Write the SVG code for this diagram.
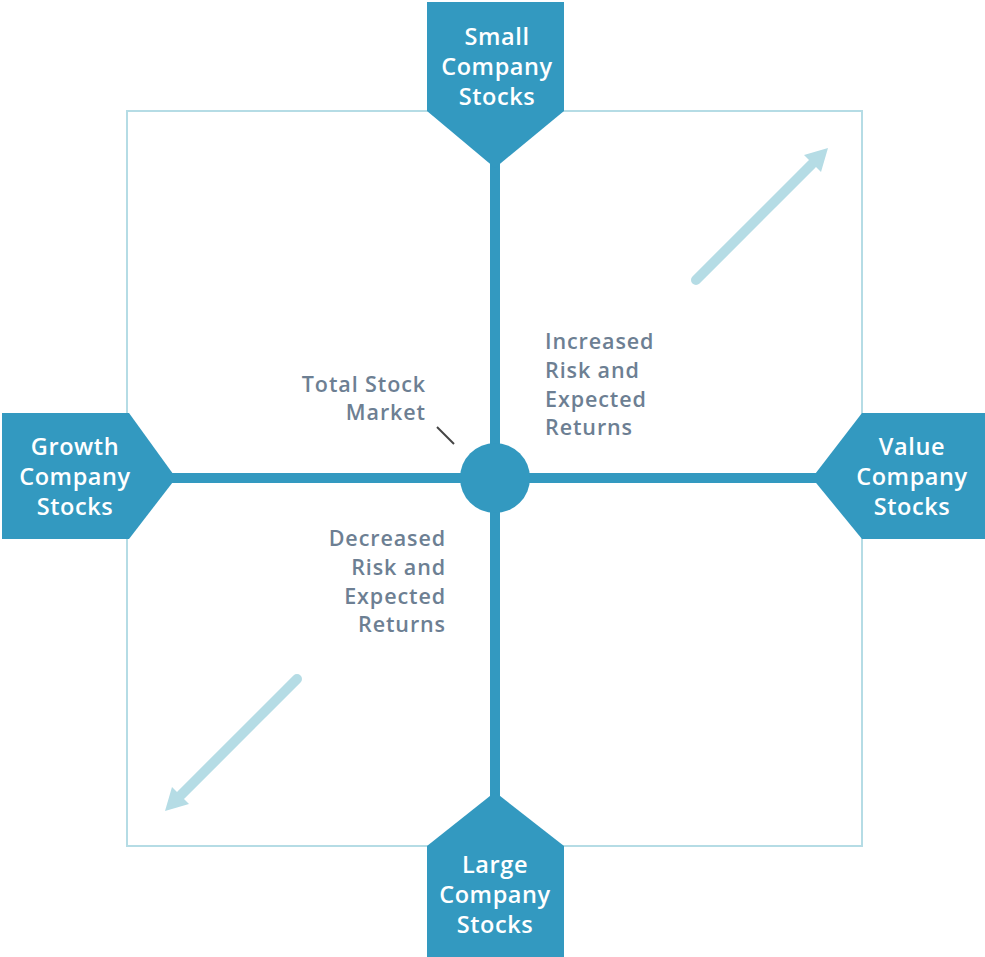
<svg xmlns="http://www.w3.org/2000/svg" width="985" height="957" viewBox="0 0 985 957">
<style>
.node{fill:#3399c0}
.nt{fill:#ffffff;font-family:"Open Sans",Lato,sans-serif;font-weight:600;font-size:23.5px;letter-spacing:0.6px;text-anchor:middle}
.lab{fill:#6d7f93;font-family:"Open Sans",Lato,sans-serif;font-weight:600;font-size:21.5px;letter-spacing:0.9px}
.axis{stroke:#3399c0;stroke-width:10;fill:none}
.arr{stroke:#b5dce5;stroke-width:10;stroke-linecap:round;fill:none}
.ah{fill:#b5dce5}
</style>
<rect x="127" y="111" width="735" height="735" fill="none" stroke="#b5dce5" stroke-width="2"/>
<g id="connectors">
<line class="axis" x1="495" y1="160" x2="495" y2="800"/>
<line class="axis" x1="170" y1="478" x2="820" y2="478"/>
<line x1="437" y1="427" x2="454" y2="444" stroke="#444" stroke-width="2"/>
<line class="arr" x1="696" y1="280" x2="812" y2="164"/>
<polygon class="ah" points="828,148 804,155 821,172"/>
<line class="arr" x1="297" y1="679" x2="181" y2="795"/>
<polygon class="ah" points="165,811 172,787 189,804"/>
</g>
<g id="total">
<circle class="node" cx="495" cy="478" r="35"/>
<text class="lab" text-anchor="end"><tspan x="426" y="392">Total Stock</tspan><tspan x="426" y="420">Market</tspan></text>
</g>
<g id="small">
<polygon class="node" points="427,2 564,2 564,111 495,168 427,111"/>
<text class="nt"><tspan x="497" y="45">Small</tspan><tspan x="497" y="75">Company</tspan><tspan x="497" y="105">Stocks</tspan></text>
</g>
<g id="growth">
<polygon class="node" points="2,413 129,413 176,478 129,539 2,539"/>
<text class="nt"><tspan x="75" y="455">Growth</tspan><tspan x="75" y="485">Company</tspan><tspan x="75" y="515">Stocks</tspan></text>
</g>
<g id="value">
<polygon class="node" points="862,413 985,413 985,539 862,539 812,478"/>
<text class="nt"><tspan x="912" y="455">Value</tspan><tspan x="912" y="485">Company</tspan><tspan x="912" y="515">Stocks</tspan></text>
</g>
<g id="large">
<polygon class="node" points="495,792 564,846 564,957 427,957 427,846"/>
<text class="nt"><tspan x="495" y="873">Large</tspan><tspan x="495" y="903">Company</tspan><tspan x="495" y="933">Stocks</tspan></text>
</g>
<g id="increased">
<text class="lab"><tspan x="545" y="349">Increased</tspan><tspan x="545" y="378">Risk and</tspan><tspan x="545" y="407">Expected</tspan><tspan x="545" y="435">Returns</tspan></text>
</g>
<g id="decreased">
<text class="lab" text-anchor="end"><tspan x="446" y="546">Decreased</tspan><tspan x="446" y="575">Risk and</tspan><tspan x="446" y="604">Expected</tspan><tspan x="446" y="632">Returns</tspan></text>
</g>
</svg>
